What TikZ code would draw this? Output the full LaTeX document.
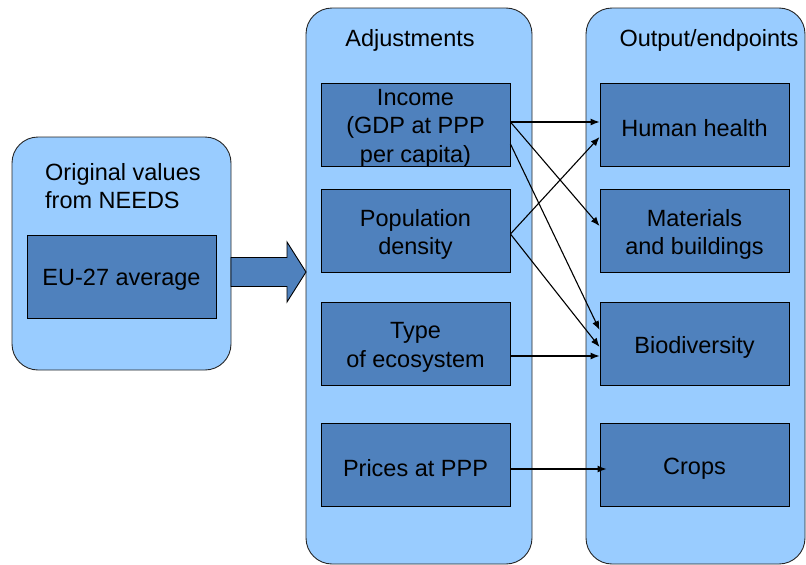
\documentclass[tikz,border=0pt]{standalone}
\usepackage{fontspec}
\setmainfont{Liberation Sans}
\usetikzlibrary{arrows.meta,calc}
\definecolor{panelblue}{RGB}{153,204,255}
\definecolor{boxblue}{RGB}{79,129,189}
\begin{document}
\begin{tikzpicture}[x=1pt,y=-1pt,
  every node/.style={font=\fontsize{23.5pt}{28.5pt}\selectfont, text=black},
  panel/.style={draw=black!85, line width=0.9pt, fill=panelblue, rounded corners=26pt},
  inbox/.style={draw=black, line width=0.9pt, fill=boxblue, minimum width=189pt, minimum height=83pt, inner sep=0pt},
  lbl/.style={align=center, inner sep=0pt},
  link/.style={line width=1.1pt, -{Latex[length=9pt,width=7pt]}},
  title/.style={inner sep=0pt, align=center}
]
\useasboundingbox (0,0) rectangle (806,565);
% panels
\draw[panel] (12,137) rectangle (231,370);
\draw[panel] (306,8) rectangle (532,564);
\draw[panel] (586,8) rectangle (805,564);
% titles
\node[title, anchor=west, align=left] (orig) at (45,186) {Original values\\from NEEDS};
\node[title] (adj) at (410,40) {Adjustments};
\node[title] (outp) at (709,40) {Output/endpoints};
% left box
\node[inbox] (eu) at (121.5,276.5) {};
\node[lbl] (eut) at ([yshift=-3.5pt]eu.center) {EU-27 average};
% block arrow
\coordinate (ba) at (231,272);
\draw[black, line width=0.9pt, fill=boxblue]
  ($(ba)+(0,-14.5)$) -- ++(56,0) -- ++(0,-15.5) -- ($(ba)+(75,0)$) -- ($(ba)+(56,30)$) -- ++(0,-15.5) -- ($(ba)+(0,14.5)$) -- cycle;
% middle boxes
\node[inbox] (inc) at (415.5,124.5) {};
\node[inbox] (pop) at (415.5,231) {};
\node[inbox] (typ) at (415.5,344) {};
\node[inbox] (pri) at (415.5,465) {};
\node[lbl] (inct) at ([yshift=-3.5pt]inc.center) {Income\\(GDP at PPP\\per capita)};
\node[lbl] (popt) at ([yshift=-3.5pt]pop.center) {Population\\density};
\node[lbl] (typt) at ([yshift=-3.5pt]typ.center) {Type\\of ecosystem};
\node[lbl] (prit) at ([yshift=-3.5pt]pri.center) {Prices at PPP};
% right boxes
\node[inbox] (hh) at (694.5,124.5) {};
\node[inbox] (mat) at (694.5,231) {};
\node[inbox] (bio) at (694.5,344) {};
\node[inbox] (cro) at (694.5,465) {};
\node[lbl] (hht) at ([yshift=-3.5pt]hh.center) {Human health};
\node[lbl] (matt) at ([yshift=-3.5pt]mat.center) {Materials\\and buildings};
\node[lbl] (biot) at ([yshift=-3.5pt]bio.center) {Biodiversity};
\node[lbl] (crot) at ([yshift=-3.5pt]cro.center) {Crops};
% connectors
\draw[link] ([yshift=2.5pt]inc.east) -- ([yshift=2.5pt]hh.west);
\draw[link] ([yshift=2.5pt]inc.east) -- ([yshift=5pt]mat.west);
\draw[link] ([yshift=-19.5pt]inc.east) -- ([yshift=14pt]bio.west);
\draw[link] ([yshift=-3pt]pop.east) -- ([yshift=-12.5pt]hh.west);
\draw[link] ([yshift=-3pt]pop.east) -- ([yshift=-3pt]bio.west);
\draw[link] ([yshift=-12pt]typ.east) -- ([yshift=-12pt]bio.west);
\draw[link] ([yshift=-4pt]pri.east) -- ([yshift=-4pt,xshift=7pt]cro.west);
\end{tikzpicture}
\end{document}
